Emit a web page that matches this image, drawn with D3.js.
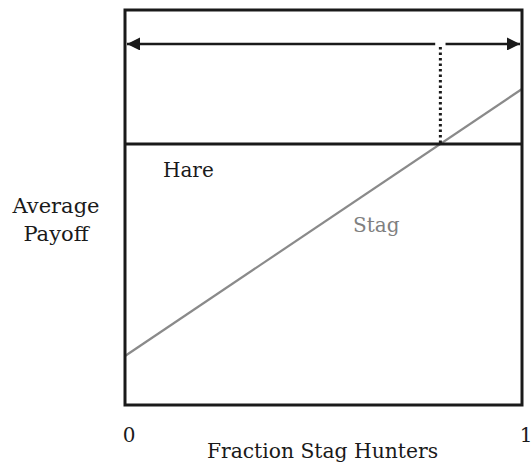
<!DOCTYPE html>
<html>
<head>
<meta charset="utf-8">
<script src="https://cdn.jsdelivr.net/npm/d3@7"></script>
<style>
  body { margin: 0; background: #fff; }
</style>
</head>
<body>
<script>
// Payoff values (fraction of stag hunters 0..1)
const fractions = [0, 1];
const stagPayoff = [0.124, 0.8];
const harePayoff = [0.661, 0.661];
const arrowLevel = 0.914;
const xTickLabels = ["0", "1"];
const seriesLabels = ["Hare", "Stag"];

const width = 532, height = 466;
const box = { left: 125, right: 522, top: 10, bottom: 405 };
const FONT = "DejaVu Serif";

const svg = d3.select("body").append("svg")
    .attr("width", width)
    .attr("height", height);

const x = d3.scaleLinear().domain([0, 1]).range([box.left, box.right]);
const y = d3.scaleLinear().domain([0, 1]).range([box.bottom, box.top]);

// Arrow marker
svg.append("defs").append("marker")
    .attr("id", "arrow-end")
    .attr("viewBox", "0 0 10 10")
    .attr("refX", 10)
    .attr("refY", 5)
    .attr("markerUnits", "userSpaceOnUse")
    .attr("markerWidth", 15)
    .attr("markerHeight", 13)
    .attr("orient", "auto")
    .append("path")
    .attr("d", "M0,0 L10,5 L0,10 Z")
    .attr("fill", "#1a1a1a");

// Stag payoff line (grey)
const line = d3.line().x(d => x(d[0])).y(d => y(d[1]));
svg.append("path")
    .datum(d3.zip(fractions, stagPayoff))
    .attr("d", line)
    .attr("fill", "none")
    .attr("stroke", "#8a8a8a")
    .attr("stroke-width", 2.2);

// Hare payoff line
svg.append("path")
    .datum(d3.zip(fractions, harePayoff))
    .attr("d", line)
    .attr("fill", "none")
    .attr("stroke", "#1a1a1a")
    .attr("stroke-width", 3);

// Crossing point of the two payoffs
const slope = (stagPayoff[1] - stagPayoff[0]) / (fractions[1] - fractions[0]);
const cross = fractions[0] + (harePayoff[0] - stagPayoff[0]) / slope;

// Basin arrows, split at the crossing
const gap = 0.013;
svg.append("line")
    .attr("x1", x(cross - gap)).attr("x2", x(0) + 2)
    .attr("y1", y(arrowLevel)).attr("y2", y(arrowLevel))
    .attr("stroke", "#1a1a1a").attr("stroke-width", 2.5)
    .attr("marker-end", "url(#arrow-end)");
svg.append("line")
    .attr("x1", x(cross + gap)).attr("x2", x(1) - 2)
    .attr("y1", y(arrowLevel)).attr("y2", y(arrowLevel))
    .attr("stroke", "#1a1a1a").attr("stroke-width", 2.5)
    .attr("marker-end", "url(#arrow-end)");

// Dotted drop line
svg.append("line")
    .attr("x1", x(cross)).attr("x2", x(cross))
    .attr("y1", y(arrowLevel) + 3).attr("y2", y(harePayoff[0]))
    .attr("stroke", "#1a1a1a").attr("stroke-width", 3)
    .attr("stroke-dasharray", "2.5,3");

// Frame
svg.append("rect")
    .attr("x", box.left).attr("y", box.top)
    .attr("width", box.right - box.left).attr("height", box.bottom - box.top)
    .attr("fill", "none").attr("stroke", "#1a1a1a").attr("stroke-width", 3);

function label(px, py, str, size, color, anchor) {
    return svg.append("text")
        .attr("x", px).attr("y", py)
        .attr("font-family", FONT)
        .attr("font-size", size)
        .attr("fill", color)
        .attr("text-anchor", anchor || "start")
        .text(str);
}

// Series labels
label(163, 177, seriesLabels[0], 20, "#1a1a1a");
label(353, 232, seriesLabels[1], 20, "#808080");

// Tick labels
fractions.forEach((d, i) => label(x(d) + 4, 442, xTickLabels[i], 20, "#1a1a1a", "middle"));

// Axis titles
label((box.left + box.right) / 2 - 1, 458, "Fraction Stag Hunters", 20.3, "#1a1a1a", "middle");
label(56, 213, "Average", 21, "#1a1a1a", "middle");
label(56, 241, "Payoff", 21, "#1a1a1a", "middle");
</script>
</body>
</html>
